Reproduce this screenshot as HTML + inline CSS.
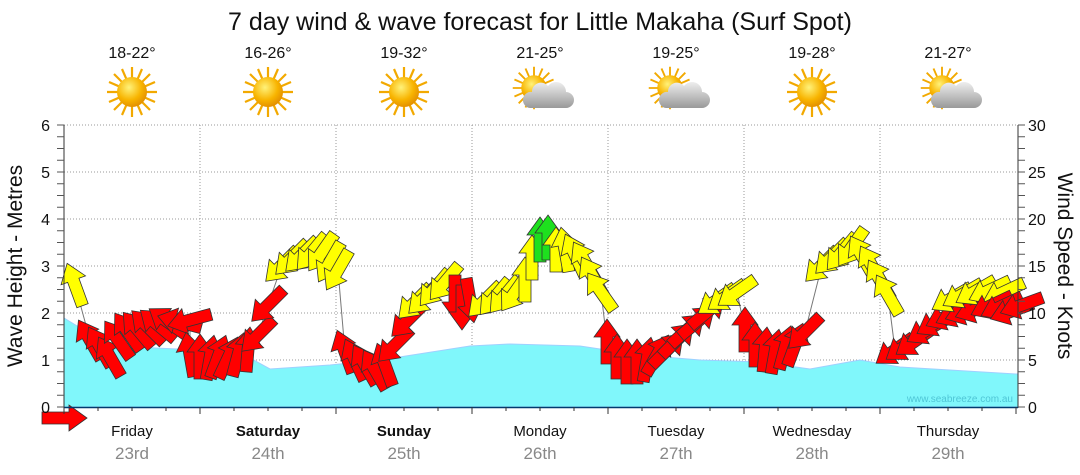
<!DOCTYPE html>
<html><head><meta charset="utf-8"><style>
body{margin:0;background:#fff;width:1080px;height:475px;overflow:hidden}
svg{display:block;font-family:"Liberation Sans",sans-serif}
</style></head><body>
<svg id="s" width="1080" height="475" xmlns="http://www.w3.org/2000/svg">
<defs>
<radialGradient id="sun" cx="0.4" cy="0.35" r="0.7"><stop offset="0" stop-color="#fff27a"/><stop offset="0.6" stop-color="#f8b400"/><stop offset="1" stop-color="#e08a00"/></radialGradient>
<linearGradient id="cl" x1="0" y1="0" x2="0" y2="1"><stop offset="0" stop-color="#eee"/><stop offset="1" stop-color="#999"/></linearGradient>
<g id="sunI"><g stroke="#f2a900" stroke-width="2.2">
<line x1="-25" y1="0" x2="25" y2="0"/><line x1="0" y1="-25" x2="0" y2="25"/><line x1="-18" y1="-18" x2="18" y2="18"/><line x1="-18" y1="18" x2="18" y2="-18"/><line x1="-23" y1="-10" x2="23" y2="10"/><line x1="-23" y1="10" x2="23" y2="-10"/><line x1="-10" y1="-23" x2="10" y2="23"/><line x1="10" y1="-23" x2="-10" y2="23"/></g>
<circle r="15" fill="url(#sun)"/></g>
<g id="cloudI"><use href="#sunI" transform="translate(-6,-4) scale(0.85)"/>
<path d="M-10,16 h36 a8,8 0 0 0 0,-16 a10,10 0 0 0 -18,-6 a9,9 0 0 0 -16,6 a8,8 0 0 0 -2,16z" fill="url(#cl)"/></g>
</defs>
<text x="540" y="30" font-size="25" text-anchor="middle" fill="#111">7 day wind &amp; wave forecast for Little Makaha  (Surf Spot)</text>
<g id="hdr" font-size="16" text-anchor="middle" fill="#111"></g>
<g id="grid"></g>
<path id="wave" fill="#80f7fb" stroke="#9fd0ff" stroke-width="1"/>
<text x="1013" y="402" font-size="10" fill="#4fc6d6" text-anchor="end">www.seabreeze.com.au</text>
<g id="arr"></g>
<g id="ax" fill="#111"></g>
<text transform="translate(22,266) rotate(-90)" font-size="21" text-anchor="middle" fill="#111">Wave Height - Metres</text>
<text transform="translate(1058,266) rotate(90)" font-size="21" text-anchor="middle" fill="#111">Wind Speed - Knots</text>
</svg>
<script>
const NS="http://www.w3.org/2000/svg";
function el(p,t,a,txt){const e=document.createElementNS(NS,t);for(const k in a)e.setAttribute(k,a[k]);if(txt!=null)e.textContent=txt;p.appendChild(e);return e;}
const hdr=document.getElementById('hdr'),grid=document.getElementById('grid'),ax=document.getElementById('ax');
const days=["Friday","Saturday","Sunday","Monday","Tuesday","Wednesday","Thursday"],dates=["23rd","24th","25th","26th","27th","28th","29th"],temps=["18-22°","16-26°","19-32°","21-25°","19-25°","19-28°","21-27°"],cloud=[0,0,0,1,1,0,1];
const X0=64,DW=136,Y0=407,MY=47;
for(let i=0;i<7;i++){const cx=X0+DW*i+68;
el(hdr,'text',{x:cx,y:58},temps[i]);
el(hdr,'use',{href:cloud[i]?'#cloudI':'#sunI',x:cx,y:92});
el(ax,'text',{x:cx,y:436,'font-size':15,'text-anchor':'middle','font-weight':(i==1||i==2)?'bold':'normal'},days[i]);
el(ax,'text',{x:cx,y:459,'font-size':17,'text-anchor':'middle',fill:'#888'},dates[i]);
if(i>0)el(grid,'line',{x1:X0+DW*i,y1:125,x2:X0+DW*i,y2:407,stroke:'#999','stroke-dasharray':'1,2'});
}
for(let v=1;v<=6;v++){const y=Y0-v*MY;el(grid,'line',{x1:64,y1:y,x2:1018,y2:y,stroke:'#999','stroke-dasharray':'1,2'});}
for(let v=0;v<=6;v++){const y=Y0-v*MY;el(ax,'text',{x:50,y:y+6,'font-size':16,'text-anchor':'end'},v);el(ax,'text',{x:1028,y:y+6,'font-size':16},v*5);}
el(ax,'line',{x1:64,y1:125,x2:64,y2:408,stroke:'#333'});el(ax,'line',{x1:1018,y1:125,x2:1018,y2:408,stroke:'#333'});el(ax,'line',{x1:64,y1:407.5,x2:1018,y2:407.5,stroke:'#003a6e','stroke-width':1.5});
for(let i=0;i<=24;i++){const y=407-i*11.75;el(ax,'line',{x1:57,y1:y,x2:64,y2:y,stroke:'#555'});el(ax,'line',{x1:1018,y1:y,x2:1025,y2:y,stroke:'#555'});}
for(let i=0;i<=28;i++){const x=64+i*34;el(ax,'line',{x1:x,y1:407,x2:x,y2:i%4==0?414:411,stroke:'#333'});}
const wp=[[64,318],[110,346],[200,350],[250,358],[270,369],[330,365],[380,360],[470,346],[510,344],[580,346],[640,355],[700,360],[760,362],[810,369],[860,360],[900,367],[1016,374],[1018,374]];
document.getElementById('wave').setAttribute('d','M64,407 '+wp.map(p=>'L'+p[0]+','+p[1]).join(' ')+' L1018,407Z');
const R='#f00',Y='#ff0',G='#1ee01e';
const A=[[75,285,-20,Y],
[90,340,-30,R],[100,347,-30,R],[110,357,-30,R],[118,340,-35,R],[128,332,-35,R],[138,330,-40,R],[148,327,-45,R],[158,325,-50,R],[168,322,-55,R],[180,322,-75,R],[190,320,-105,R],
[190,355,-10,R],[200,357,0,R],[210,358,10,R],[218,357,20,R],[228,358,25,R],[238,355,15,R],[248,350,5,R],[258,335,-135,R],[268,305,-135,R],
[282,265,-135,Y],[292,258,-135,Y],[302,255,-135,Y],[312,252,-140,Y],[322,252,-145,Y],[330,262,-150,Y],[338,270,-150,Y],
[345,352,-20,R],[355,360,-25,R],[365,365,-30,R],[375,370,-30,R],[385,365,-20,R],[395,345,-135,R],[408,320,-135,R],
[415,302,-135,Y],[425,297,-135,Y],[435,288,-140,Y],[445,282,-140,Y],
[455,297,180,R],[462,307,180,R],[470,300,170,R],
[485,300,-135,Y],[495,297,-140,Y],[505,295,-140,Y],[515,292,-145,Y],[525,280,0,Y],[532,258,0,Y],
[540,240,0,G],[548,238,0,G],
[556,250,0,Y],[565,250,-10,Y],[575,255,-25,Y],[585,262,-30,Y],[593,277,-30,Y],[601,292,-35,Y],
[607,342,0,R],[617,357,0,R],[627,362,0,R],[637,362,0,R],[647,360,10,R],[657,355,30,R],[667,350,45,R],[677,340,45,R],[687,330,48,R],[697,322,50,R],[707,312,50,R],
[717,300,-125,Y],[727,296,-125,Y],[737,292,-125,Y],
[745,330,0,R],[755,345,0,R],[765,350,5,R],[775,352,10,R],[785,348,15,R],[795,345,20,R],[805,332,-135,R],
[822,265,-135,Y],[832,257,-135,Y],[842,252,-140,Y],[852,247,-145,Y],[862,256,-30,Y],[872,266,-30,Y],[880,280,-30,Y],[888,295,-30,Y],
[895,350,-125,R],[905,346,-125,R],[915,341,-125,R],[927,330,-120,R],[937,322,-120,R],[947,316,-115,R],[957,313,-115,R],[967,311,-110,R],[977,309,-110,R],
[952,298,-120,Y],[963,294,-120,Y],[976,291,-120,Y],[990,290,-115,Y],[1004,292,-115,Y],
[992,305,-115,R],[1002,306,-115,R],[1012,311,-110,R],[1022,305,-110,R]];
const g=document.getElementById('arr');
const shape="M0,-23 L13,-5 L6,-5 L6,22 L-6,22 L-6,-5 L-13,-5Z";
el(g,'polyline',{points:A.map(a=>a[0]+','+a[1]).join(' '),fill:'none',stroke:'#777','stroke-width':1});
for(const a of A){el(g,'path',{d:shape,transform:`translate(${a[0]},${a[1]}) rotate(${a[2]})`,fill:a[3],stroke:'#333','stroke-width':0.8});}
el(g,'path',{d:shape,transform:'translate(64,418) rotate(90)',fill:R,stroke:'#333','stroke-width':0.8});
</script>
</body></html>
